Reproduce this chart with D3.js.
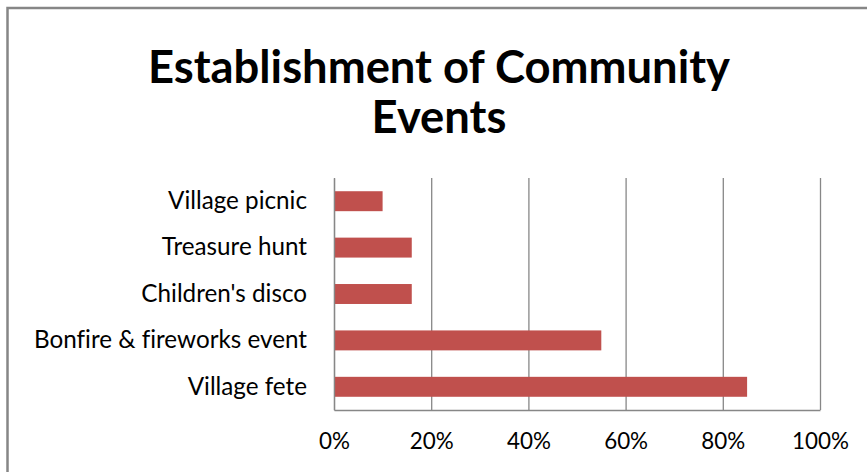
<!DOCTYPE html>
<html><head><meta charset="utf-8">
<script src="https://cdn.jsdelivr.net/npm/d3@7"></script>
<style>html,body{margin:0;padding:0;background:#fff;overflow:hidden}svg{display:block}text{font-variant-ligatures:none}</style>
</head><body>
<script>
// Survey: share of respondents supporting each community event
const categories = ["Village picnic", "Treasure hunt", "Children's disco", "Bonfire & fireworks event", "Village fete"];
const values = [0.10, 0.16, 0.16, 0.55, 0.85];
const tickValues = [0, 0.2, 0.4, 0.6, 0.8, 1.0];
const titleLines = ["Establishment of Community", "Events"];

const W = 867, H = 472;
const FONT = "Lato, 'Open Sans', sans-serif";
const GRID = "#878787";

const svg = d3.select("body").append("svg").attr("width", W).attr("height", H);

// chart frame
svg.append("rect")
  .attr("x", 7.5).attr("y", 8).attr("width", W + 20).attr("height", H + 20)
  .attr("fill", "#fff").attr("stroke", "#868686").attr("stroke-width", 2.5);

const plot = { left: 334, right: 820, top: 178, bottom: 410 };
const x = d3.scaleLinear().domain([0, 1]).range([plot.left, plot.right]);
const y = d3.scaleBand().domain(categories).range([plot.top, plot.bottom])
  .paddingInner(0.57).paddingOuter(0.285);

// fit a font size so that a probe string spans the target width
function fitSize(probeText, target, base, weight) {
  const t = svg.append("text").attr("font-family", FONT).attr("font-size", base)
    .attr("font-weight", weight || "normal").text(probeText);
  const w = t.node().getComputedTextLength();
  t.remove();
  return base * target / w;
}
const labelSize = fitSize("Bonfire & fireworks event", 273, 26);
const tickSize = fitSize("100%", 57, 26);
const titleSize = fitSize(titleLines[0], 582, 44, "bold");

// vertical gridlines
const grid = svg.append("g").attr("transform", `translate(0,${plot.bottom})`)
  .call(d3.axisBottom(x).tickValues(tickValues).tickSize(-(plot.bottom - plot.top)).tickFormat(""));
grid.select(".domain").remove();
grid.selectAll(".tick line").attr("stroke", GRID).attr("stroke-width", 1.3);

// bars
svg.append("g").selectAll("rect").data(categories).join("rect")
  .attr("x", x(0))
  .attr("y", d => y(d))
  .attr("width", (d, i) => x(values[i]) - x(0))
  .attr("height", y.bandwidth())
  .attr("fill", "#C0504D");

// value axis
const xAxis = svg.append("g").attr("transform", `translate(0,${plot.bottom})`)
  .call(d3.axisBottom(x).tickValues(tickValues).tickSize(0).tickPadding(23).tickFormat(d3.format(".0%")));
xAxis.select(".domain").attr("stroke", GRID).attr("stroke-width", 1.3);
xAxis.selectAll("text").attr("font-family", FONT).attr("font-size", tickSize).attr("fill", "#000");

// category axis
const yAxis = svg.append("g").attr("transform", `translate(${plot.left},0)`)
  .call(d3.axisLeft(y).tickSize(0).tickPadding(27));
yAxis.select(".domain").attr("stroke", GRID).attr("stroke-width", 1.3);
yAxis.selectAll("text").attr("font-family", FONT).attr("font-size", labelSize).attr("fill", "#000");

// title
svg.append("g").selectAll("text").data(titleLines).join("text")
  .attr("x", 439).attr("y", (d, i) => 83 + i * 50)
  .attr("text-anchor", "middle")
  .attr("font-family", FONT).attr("font-weight", "bold").attr("font-size", titleSize)
  .attr("fill", "#000")
  .text(d => d);
</script>
</body></html>
